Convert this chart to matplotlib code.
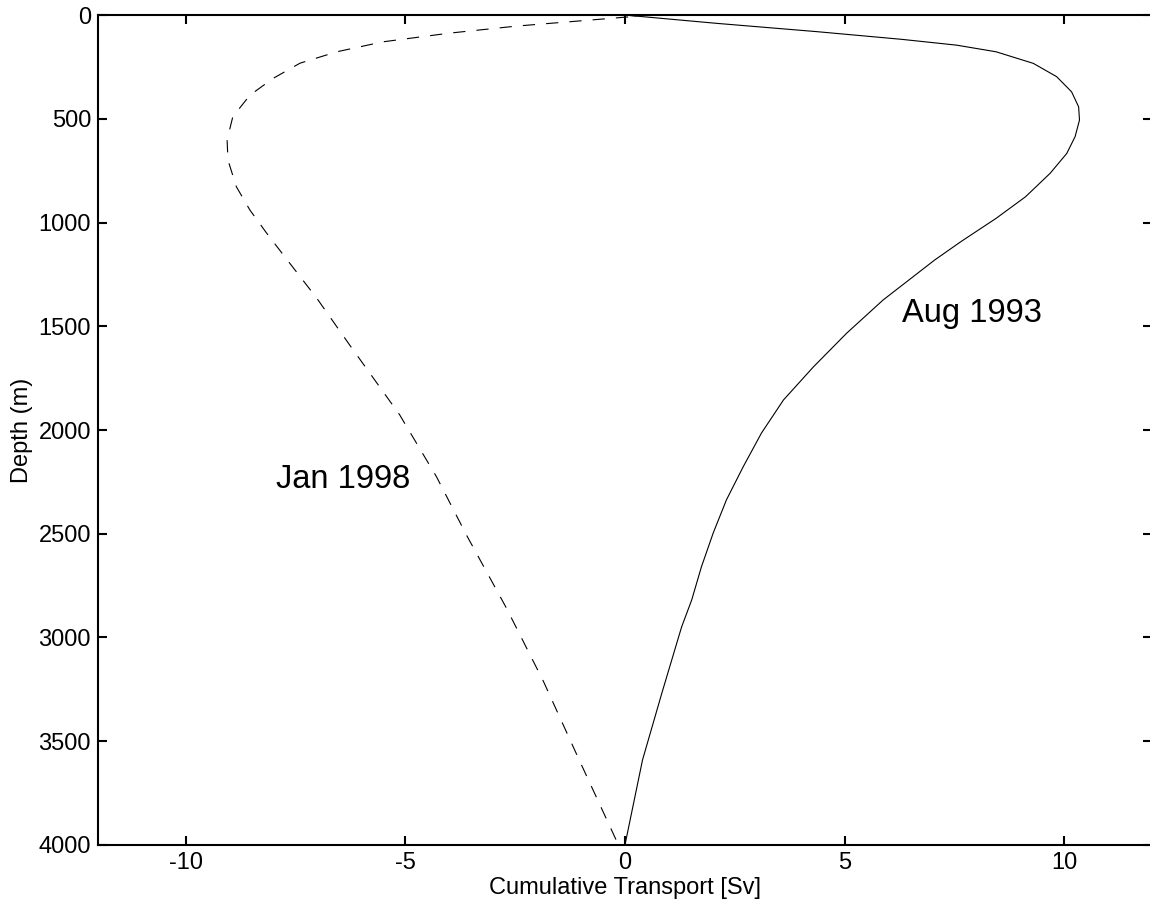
import numpy as np
import matplotlib
matplotlib.use("Agg")
import matplotlib.pyplot as plt

plt.rcParams['font.family'] = ['Liberation Sans', 'DejaVu Sans']

# Aug 1993 profile (solid)
aug_depth = [0, 40, 80, 117, 145, 177, 233, 297, 370, 442, 506, 586, 667,
             763, 876, 980, 1092, 1181, 1373, 1533, 1696, 1855, 2014, 2178,
             2337, 2496, 2660, 2819, 2949, 3268, 3590, 4000]
aug_transport = [0.0, 2.09, 4.37, 6.3, 7.55, 8.45, 9.30, 9.83, 10.17,
                 10.33, 10.35, 10.25, 10.06, 9.68, 9.12, 8.45, 7.65, 7.05, 5.88,
                 5.05, 4.29, 3.61, 3.11, 2.69, 2.31, 2.01, 1.74, 1.52, 1.29,
                 0.84, 0.40, 0.0]

# Jan 1998 profile (dashed)
jan_depth = [0, 5, 27, 53, 87, 129, 177, 232, 305, 386, 490, 602, 699, 827, 940,
             1051, 1197, 1364, 1593, 1927, 2226, 2506, 2858, 3210, 3596, 3981, 4000]
jan_transport = [0.0, 0.3, -0.96, -2.46, -3.99, -5.51, -6.56, -7.40, -8.01, -8.54,
                 -8.93, -9.06, -9.04, -8.85, -8.54, -8.16, -7.63, -7.02, -6.26,
                 -5.13, -4.29, -3.61, -2.70, -1.86, -1.03, -0.19, -0.1]

xticks = [-10, -5, 0, 5, 10]
yticks = [0, 500, 1000, 1500, 2000, 2500, 3000, 3500, 4000]

fig = plt.figure(figsize=(11.5, 9.07), dpi=100)
ax = fig.add_axes([0.0852, 0.0684, 0.9165, 0.915])

ax.plot(aug_transport, aug_depth, color='black', linewidth=0.8)
ax.plot(jan_transport, jan_depth, color='black', linewidth=0.8,
        linestyle=(0, (11, 10)))

ax.text(6.31, 1479, 'Aug 1993', fontsize=23.5, ha='left', va='baseline')
ax.text(-7.95, 2280, 'Jan 1998', fontsize=23.5, ha='left', va='baseline')

ax.set_xlim(-12, 12)
ax.set_ylim(4000, 0)
ax.set_xticks(xticks)
ax.set_xticklabels([str(t) for t in xticks])
ax.set_yticks(yticks)
ax.tick_params(direction='in', length=6.5, width=1.5, labelsize=17,
               top=True, right=True, pad=5)
for s in ax.spines.values():
    s.set_linewidth(1.5)

ax.set_xlabel('Cumulative Transport [Sv]', fontsize=17, labelpad=2)
ax.set_ylabel('Depth (m)', fontsize=17, labelpad=4)

fig.savefig('out.png', dpi=100)
